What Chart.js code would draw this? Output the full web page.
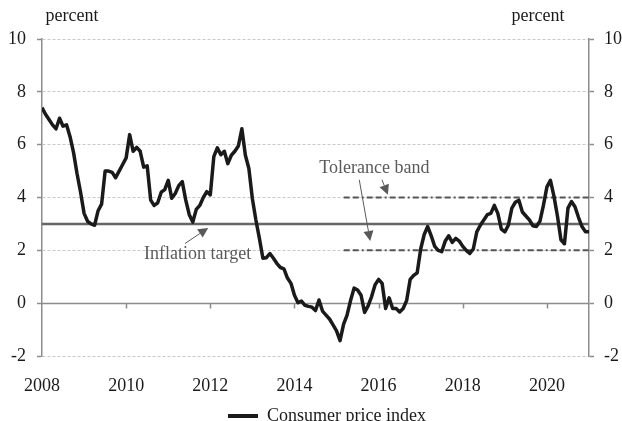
<!DOCTYPE html>
<html>
<head>
<meta charset="utf-8">
<script src="https://cdn.jsdelivr.net/npm/chart.js@4"></script>
<style>
  html, body { margin: 0; padding: 0; background: #fff; }
  canvas { display: block; }
</style>
</head>
<body>
<canvas id="chart" width="622" height="421"></canvas>
<script>
// Monthly CPI, year-on-year % change, Jan 2008 .. Jan 2021
const startYear = 2008;
const endYear = 2021;
const cpi = [
  7.4, 7.15, 6.95, 6.75, 6.6, 7.0, 6.7, 6.75, 6.3, 5.7, 4.9, 4.2,        // 2008
  3.4, 3.1, 3.0, 2.95, 3.5, 3.75, 5.0, 5.0, 4.95, 4.75, 5.0, 5.25,       // 2009
  5.5, 6.38, 5.75, 5.9, 5.75, 5.15, 5.2, 3.9, 3.7, 3.8, 4.2, 4.3,        // 2010
  4.65, 3.97, 4.15, 4.45, 4.6, 3.9, 3.35, 3.07, 3.55, 3.7, 4.0, 4.22,    // 2011
  4.1, 5.55, 5.88, 5.62, 5.75, 5.28, 5.6, 5.75, 5.95, 6.6, 5.6, 5.1,     // 2012
  3.95, 3.15, 2.45, 1.7, 1.72, 1.88, 1.7, 1.5, 1.35, 1.3, 0.95, 0.75,    // 2013
  0.3, 0.02, 0.08, -0.08, -0.12, -0.15, -0.28, 0.12, -0.3, -0.45, -0.6, -0.82, // 2014
  -1.05, -1.42, -0.8, -0.45, 0.1, 0.57, 0.5, 0.3, -0.35, -0.1, 0.25, 0.7,     // 2015
  0.9, 0.75, -0.2, 0.2, -0.2, -0.2, -0.33, -0.2, 0.1, 0.9, 1.05, 1.15,   // 2016
  2.05, 2.6, 2.9, 2.55, 2.15, 2.0, 1.95, 2.35, 2.55, 2.3, 2.45, 2.35,    // 2017
  2.15, 2.0, 1.88, 2.05, 2.7, 2.95, 3.15, 3.35, 3.4, 3.7, 3.4, 2.8,      // 2018
  2.7, 2.95, 3.6, 3.82, 3.9, 3.45, 3.3, 3.15, 2.93, 2.9, 3.1, 3.7,       // 2019
  4.4, 4.65, 4.05, 3.3, 2.4, 2.25, 3.6, 3.85, 3.65, 3.25, 2.9, 2.7,      // 2020
  2.7                                                                     // 2021
];
const inflationTarget = 3;
const toleranceUpper = 4;
const toleranceLower = 2;
const toleranceStart = 2015.17;
const yTicks = [-2, 0, 2, 4, 6, 8, 10];
const xTicks = [2008, 2010, 2012, 2014, 2016, 2018, 2020];

const FONT = "'Liberation Serif', 'Times New Roman', serif";
const TEXT = '#1a1a1a';
const NOTE = '#595959';
const AXIS = '#8c8c8c';

const cpiPoints = cpi.map((v, i) => ({x: startYear + i / 12, y: v}));

// zero line with tick marks, "percent" titles and the arrows/notes
const extras = {
    id: 'extras',
    afterLayout(chart) {
        const lg = chart.legend;
        lg.left += 16; lg.right += 16;
        lg.top += 4; lg.bottom += 4;
    },
    beforeDatasetsDraw(chart) {
        const {ctx, chartArea: a, scales: {x, y}} = chart;
        const y0 = Math.round(y.getPixelForValue(0)) + 0.5;
        ctx.save();
        ctx.strokeStyle = AXIS;
        ctx.lineWidth = 1.5;
        ctx.beginPath();
        ctx.moveTo(a.left, y0);
        ctx.lineTo(a.right, y0);
        xTicks.slice(1).forEach(t => {
            const px = Math.round(x.getPixelForValue(t)) + 0.5;
            ctx.moveTo(px, y0);
            ctx.lineTo(px, y0 + 5);
        });
        ctx.stroke();
        ctx.restore();
    },
    afterDatasetsDraw(chart) {
        const {ctx, chartArea: a, scales: {x, y}} = chart;
        ctx.save();
        ctx.font = '18px ' + FONT;
        ctx.textBaseline = 'middle';
        ctx.textAlign = 'center';
        ctx.fillStyle = TEXT;
        ctx.fillText('percent', 72, 16);
        ctx.fillText('percent', 538, 16);

        ctx.fillStyle = NOTE;
        ctx.fillText('Inflation target', x.getPixelForValue(2011.7), y.getPixelForValue(1.85));
        ctx.fillText('Tolerance band', x.getPixelForValue(2015.9), y.getPixelForValue(5.1));

        const arrow = (x1, y1, x2, y2) => {
            const p1 = [x.getPixelForValue(x1), y.getPixelForValue(y1)];
            const p2 = [x.getPixelForValue(x2), y.getPixelForValue(y2)];
            const ang = Math.atan2(p2[1] - p1[1], p2[0] - p1[0]);
            const len = 10, half = 5;
            const bx = p2[0] - len * Math.cos(ang), by = p2[1] - len * Math.sin(ang);
            ctx.strokeStyle = NOTE;
            ctx.lineWidth = 1;
            ctx.beginPath();
            ctx.moveTo(p1[0], p1[1]);
            ctx.lineTo(bx, by);
            ctx.stroke();
            ctx.fillStyle = NOTE;
            ctx.beginPath();
            ctx.moveTo(p2[0], p2[1]);
            ctx.lineTo(bx + half * Math.sin(ang), by - half * Math.cos(ang));
            ctx.lineTo(bx - half * Math.sin(ang), by + half * Math.cos(ang));
            ctx.closePath();
            ctx.fill();
        };
        arrow(2011.4, 2.26, 2011.95, 2.85);
        arrow(2015.54, 4.67, 2015.8, 2.35);
        arrow(2016.08, 4.67, 2016.22, 4.1);
        ctx.restore();
    }
};

new Chart(document.getElementById('chart'), {
    type: 'line',
    data: {
        datasets: [{
            label: 'Consumer price index',
            data: cpiPoints,
            borderColor: TEXT,
            backgroundColor: TEXT,
            borderWidth: 3.5,
            pointRadius: 0,
            tension: 0,
            borderJoinStyle: 'round'
        }, {
            label: 'Inflation target',
            data: [{x: startYear, y: inflationTarget}, {x: endYear, y: inflationTarget}],
            borderColor: '#666',
            borderWidth: 2.5,
            pointRadius: 0
        }, {
            label: 'Tolerance band upper',
            data: [{x: toleranceStart, y: toleranceUpper}, {x: endYear, y: toleranceUpper}],
            borderColor: '#555',
            borderWidth: 2,
            borderDash: [6, 3, 6, 3, 2, 3],
            pointRadius: 0
        }, {
            label: 'Tolerance band lower',
            data: [{x: toleranceStart, y: toleranceLower}, {x: endYear, y: toleranceLower}],
            borderColor: '#555',
            borderWidth: 2,
            borderDash: [6, 3, 6, 3, 2, 3],
            pointRadius: 0
        }]
    },
    options: {
        responsive: false,
        animation: false,
        layout: {padding: {top: 39, left: 0, right: 0, bottom: -10}},
        plugins: {
            tooltip: {enabled: false},
            legend: {
                position: 'bottom',
                labels: {
                    color: TEXT,
                    font: {family: FONT, size: 18},
                    boxWidth: 30,
                    boxHeight: 4,
                    padding: 3,
                    generateLabels: chart => Chart.defaults.plugins.legend.labels.generateLabels(chart)
                        .filter(l => l.datasetIndex === 0)
                        .map(l => Object.assign(l, {lineWidth: 0, strokeStyle: 'rgba(0,0,0,0)', fillStyle: TEXT}))
                }
            }
        },
        scales: {
            x: {
                type: 'linear',
                min: startYear,
                max: endYear,
                afterBuildTicks: s => { s.ticks = xTicks.map(v => ({value: v})); },
                afterFit: s => { s.height = 44; },
                grid: {display: false, drawTicks: false},
                border: {display: false},
                ticks: {
                    autoSkip: false, maxRotation: 0, padding: 19,
                    color: TEXT, font: {family: FONT, size: 18},
                    callback: v => String(v)
                }
            },
            y: {
                position: 'left',
                min: -2, max: 10,
                afterBuildTicks: s => { s.ticks = yTicks.map(v => ({value: v})); },
                afterFit: s => { s.width = 42; },
                grid: {
                    color: c => c.tick && c.tick.value === 0 ? 'rgba(0,0,0,0)' : '#c8c8c8',
                    lineWidth: 1,
                    tickColor: AXIS,
                    tickLength: 5,
                    tickWidth: 1.5
                },
                border: {display: true, color: AXIS, width: 1.5, dash: [3, 2]},
                ticks: {padding: 11, color: TEXT, font: {family: FONT, size: 18}, callback: v => String(v)}
            },
            y2: {
                position: 'right',
                min: -2, max: 10,
                afterBuildTicks: s => { s.ticks = yTicks.map(v => ({value: v})); },
                afterFit: s => { s.width = 33; },
                grid: {drawOnChartArea: false, tickColor: AXIS, tickLength: 5, tickWidth: 1.5},
                border: {display: true, color: AXIS, width: 1.5},
                ticks: {padding: 10, color: TEXT, font: {family: FONT, size: 18}, callback: v => String(v)}
            }
        }
    },
    plugins: [extras]
});
</script>
</body>
</html>
